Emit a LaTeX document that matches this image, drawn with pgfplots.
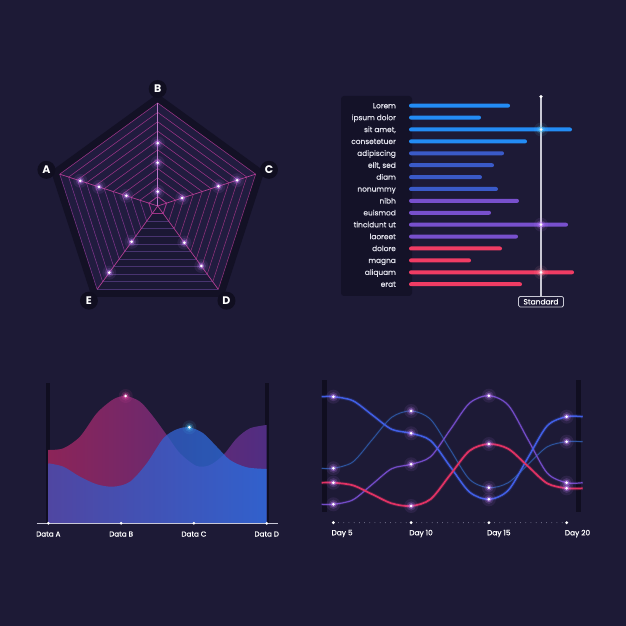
\documentclass[border=0pt]{standalone}
\usepackage{pgfplots}
\pgfplotsset{compat=1.18}
\usepgfplotslibrary{polar}
\usepackage{fontspec}
\setmainfont{Poppins}
\newfontfamily\medfont{Poppins}[FakeBold=0.7]

\definecolor{bg}{RGB}{29,26,54}
\definecolor{panel}{RGB}{20,18,40}
\definecolor{darkbar}{RGB}{16,14,32}
\definecolor{radarfill}{RGB}{33,28,63}
\definecolor{radarbottom}{RGB}{27,24,52}
\definecolor{ringpink}{RGB}{155,52,135}
\definecolor{ringright}{RGB}{145,50,125}
\definecolor{ringleft}{RGB}{125,52,138}
\definecolor{ringbottom}{RGB}{72,52,112}
\definecolor{spoke}{RGB}{180,62,148}
\definecolor{spokeB}{RGB}{185,120,200}
\definecolor{glowpurple}{RGB}{200,130,255}
\definecolor{barA}{RGB}{35,140,245}
\definecolor{barB}{RGB}{58,90,200}
\definecolor{barC}{RGB}{120,80,205}
\definecolor{barD}{RGB}{240,60,100}
\definecolor{txt}{RGB}{225,225,235}
\definecolor{stdc}{RGB}{200,200,212}
\definecolor{lineblue}{RGB}{65,95,230}
\definecolor{linesteel}{RGB}{45,85,160}
\definecolor{linepurple}{RGB}{115,75,200}
\definecolor{linered}{RGB}{225,50,100}
\definecolor{pinkL}{RGB}{140,36,88}
\definecolor{pinkR}{RGB}{80,45,130}
\definecolor{blueL}{RGB}{63,80,183}
\definecolor{blueR}{RGB}{41,112,225}
\definecolor{axisgray}{RGB}{200,200,215}
\definecolor{dotgray}{RGB}{140,140,165}

\pgfplotstableread{
x      blue   steel  purple red
4.25   115    43.4   7.4    29
5      115    43.4   7.4    29
6.25   111    49.7   11.8   26.4
7.5    96.7   72.1   27.4   17.4
8.75   82.4   94.4   43     8.3
10     78.4   100.7  47.4   5.7
11.25  71.1   92.3   55     12.5
12.5   45.4   62.4   81.7   36.7
13.75  19.7   32.4   108.5  60.9
15     12.4   24     116    67.7
16.25  21.5   29.1   106.4  62.8
17.5   53.7   47     72.5   45.6
18.75  85.9   64.9   38.6   28.3
20     95     70     29     23.4
21.03  95     70     29     23.4
}\linedata

\newcommand\glow[2]{%
  \addplot[only marks, color=#1, mark=*, mark size=7pt, mark options={draw opacity=0, fill=#1, fill opacity=0.09}] coordinates {#2};
  \addplot[only marks, color=#1, mark=*, mark size=4.6pt, mark options={draw opacity=0, fill=#1, fill opacity=0.18}] coordinates {#2};
  \addplot[only marks, color=#1, mark=*, mark size=2.8pt, mark options={draw opacity=0, fill=#1, fill opacity=0.45}] coordinates {#2};
  \addplot[only marks, color=white, mark=*, mark size=1.5pt, mark options={draw opacity=0, fill=white}] coordinates {#2};
}
\tikzset{radlab/.style={circle, fill=darkbar, minimum size=18pt, inner sep=0pt, text=white,
      font=\bfseries\fontsize{11}{11}\selectfont}}

\begin{document}
\begin{tikzpicture}[x=1pt,y=1pt]
\fill[bg] (0,0) rectangle (626,626);
% label panel of the bar chart
\fill[panel, rounded corners=3pt] (341,330) rectangle (412,530);

% ---------------- Radar chart ----------------
\begin{polaraxis}[at={(157.7pt,420pt)}, anchor=center, scale only axis,
  width=206pt, height=206pt, xmin=0, xmax=360, ymin=0, ymax=100,
  hide axis, clip=false]
  \addplot[darkbar, line width=10pt, line join=round, opacity=0.75] coordinates {(18,103)(90,103)(162,103)(234,103)(306,103)(18,103)(90,103)};
  \addplot[draw=none, fill=radarfill] coordinates {(18,100)(90,100)(162,100)(234,100)(306,100)};
  \addplot[draw=none, fill=radarbottom] coordinates {(306,100)(234,100)(0,0)};
  \pgfplotsinvokeforeach{9.09,18.18,27.27,36.36,45.45,54.55,63.64,72.73,81.82,90.91,100}{
    \addplot[ringpink, line width=0.55pt] coordinates {(162,#1)(90,#1)(18,#1)};
    \addplot[ringright, line width=0.55pt] coordinates {(18,#1)(306,#1)};
    \addplot[ringbottom, line width=0.55pt] coordinates {(306,#1)(234,#1)};
    \addplot[ringleft, line width=0.55pt] coordinates {(234,#1)(162,#1)};
  }
  \addplot[ringpink, line width=0.7pt] coordinates {(18,9.09)(90,9.09)(162,9.09)(234,9.09)(306,9.09)(18,9.09)};
  \addplot[spoke, line width=0.7pt] coordinates {(162,0)(162,100)};
  \addplot[spoke, line width=0.7pt] coordinates {(18,0)(18,100)};
  \addplot[spoke, line width=0.7pt] coordinates {(306,0)(306,100)};
  \addplot[spoke, line width=0.7pt] coordinates {(234,0)(234,100)};
  \addplot[spokeB, line width=0.6pt] coordinates {(90,0)(90,100)};
  \glow{glowpurple}{(90,61)(90,42)(90,14)(162,79)(162,60)(162,32)(18,81)(18,62)(18,25)(306,44)(306,72)(234,43)(234,80)}
  \node[radlab] at (axis cs:162,113.6) {A};
  \node[radlab] at (axis cs:90,113.6) {B};
  \node[radlab] at (axis cs:18,113.6) {C};
  \node[radlab] at (axis cs:306,113.6) {D};
  \node[radlab] at (axis cs:234,113.6) {E};
\end{polaraxis}

% ---------------- Bar chart ----------------
\begin{axis}[at={(409pt,312.05pt)}, anchor=south west, scale only axis,
  width=175pt, height=226.1pt, xmin=0, xmax=175, ymin=-2.5, ymax=16.5,
  axis line style={draw=none}, xtick=\empty,
  ytick={0,1,2,3,4,5,6,7,8,9,10,11,12,13,14,15},
  yticklabels={erat,aliquam,magna,dolore,laoreet,tincidunt ut,euismod,nibh,nonummy,diam,{elit, sed},adipiscing,consetetuer,{sit amet,},ipsum dolor,Lorem},
  major tick length=0pt,
  yticklabel style={font=\medfont\fontsize{7.4}{8}\selectfont, text=txt, anchor=base east, inner sep=0pt, xshift=-13pt, yshift=-2.6pt},
  clip=false]
  \addplot[xbar, bar width=4pt, bar shift=0pt, draw=none, fill=barA, rounded corners=2pt] coordinates {(101,15)(72,14)(163,13)(118,12)};
  \addplot[xbar, bar width=4pt, bar shift=0pt, draw=none, fill=barB, rounded corners=2pt] coordinates {(95,11)(85,10)(73,9)(89,8)};
  \addplot[xbar, bar width=4pt, bar shift=0pt, draw=none, fill=barC, rounded corners=2pt] coordinates {(110,7)(82,6)(159,5)(109,4)};
  \addplot[xbar, bar width=4pt, bar shift=0pt, draw=none, fill=barD, rounded corners=2pt] coordinates {(93,3)(62,2)(165,1)(113,0)};
  \addplot[stdc, line width=1.1pt] coordinates {(132,15.76)(132,-1.05)};
  \addplot[only marks, color=white, mark=*, mark size=1.8pt, mark options={draw opacity=0, fill=white}] coordinates {(132,15.76)};
  \glow{cyan!60!white}{(132,13)}
  \glow{glowpurple}{(132,5)}
  \glow{barD!50!white}{(132,1)}
  \node[draw=stdc, fill=bg, rounded corners=1.5pt, line width=0.8pt, inner sep=1pt,
    minimum width=45pt, minimum height=10.5pt, text=white, font=\medfont\fontsize{7.5}{8}\selectfont] at (axis cs:132,-1.47) {Standard};
\end{axis}

% ---------------- Area chart ----------------
\begin{axis}[at={(36.7pt,102.7pt)}, anchor=south west, scale only axis,
  width=241.3pt, height=140pt, xmin=-0.16, xmax=3.155, ymin=0, ymax=140,
  axis line style={draw=none}, ytick=\empty, xtick={0,1,2,3},
  xticklabels={Data A,Data B,Data C,Data D}, major tick length=0pt,
  xticklabel style={font=\medfont\fontsize{7.2}{8}\selectfont, text=white, anchor=north, inner sep=0pt, yshift=-8pt},
  clip=false]
  \addplot[darkbar, line width=4pt] coordinates {(0,0)(0,140)};
  \addplot[darkbar, line width=4pt] coordinates {(3,0)(3,140)};
  \addplot[smooth, draw=none, left color=pinkL, right color=pinkR] coordinates {
    (0,73.3)(0.206,75)(0.435,86.7)(0.665,110)(0.893,124)(1.063,127.3)(1.26,121.6)(1.442,106.6)
    (1.626,88.3)(1.809,70)(2.038,57.3)(2.221,58.3)(2.404,68.3)(2.588,85)(2.771,95)(3,98.3)} \closedcycle;
  \addplot[smooth, draw=none, left color=blueL, right color=blueR, fill opacity=0.78] coordinates {
    (0,60)(0.206,56.6)(0.435,46.6)(0.665,39)(0.893,36.6)(1.122,41.6)(1.352,60)(1.58,85)
    (1.764,94)(1.937,96)(2.129,90)(2.313,76.6)(2.496,63.3)(2.725,56)(3,54.3)} \closedcycle;
  \addplot[axisgray, line width=1pt] coordinates {(-0.16,0)(3.155,0)};
  \addplot[only marks, color=white, mark=*, mark size=1.5pt, mark options={draw opacity=0, fill=white}] coordinates {(0,0)(1,0)(2,0)(3,0)};
  \glow{magenta!70!white}{(1.063,127.3)}
  \glow{cyan!70!white}{(1.937,96)}
\end{axis}

% ---------------- Line chart ----------------
\begin{axis}[at={(321.7pt,103.3pt)}, anchor=south west, scale only axis,
  width=261pt, height=142.7pt, xmin=4.25, xmax=21.03, ymin=-11, ymax=131.7,
  axis line style={draw=none}, ytick=\empty, xtick={5,10,15,20},
  xticklabels={Day 5,Day 10,Day 15,Day 20}, major tick length=0pt,
  xticklabel style={font=\medfont\fontsize{7.4}{8}\selectfont, text=white, anchor=north west, inner sep=0pt, xshift=-2pt, yshift=-7pt},
  clip=false]
  \addplot[darkbar, line width=5pt] coordinates {(4.46,0)(4.46,131.7)};
  \addplot[darkbar, line width=5pt] coordinates {(20.77,0)(20.77,131.7)};
  % glow under lines
  \addplot[smooth, linesteel, line width=2.5pt, opacity=0.15] table[x=x, y=steel] {\linedata};
  \addplot[smooth, linepurple, line width=3pt, opacity=0.15] table[x=x, y=purple] {\linedata};
  \addplot[smooth, lineblue, line width=3.5pt, opacity=0.2] table[x=x, y=blue] {\linedata};
  \addplot[smooth, linered, line width=3.5pt, opacity=0.2] table[x=x, y=red] {\linedata};
  % lines
  \addplot[smooth, linesteel, line width=0.9pt] table[x=x, y=steel] {\linedata};
  \addplot[smooth, linepurple, line width=1.2pt] table[x=x, y=purple] {\linedata};
  \addplot[smooth, lineblue, line width=1.5pt] table[x=x, y=blue] {\linedata};
  \addplot[smooth, linered, line width=1.7pt] table[x=x, y=red] {\linedata};
  \glow{glowpurple}{(5,115)(10,78.4)(15,12.4)(20,95)(5,43.4)(10,100.7)(15,24)(20,70)(5,7.4)(10,47.4)(15,116)(20,29)(5,29)(10,5.7)(15,67.7)(20,23.4)}
  % day axis
  \addplot[dotgray, line width=0.9pt, line cap=round, dash pattern=on 0pt off 5.2pt] coordinates {(5,-11)(20,-11)};
  \addplot[only marks, color=white, mark=*, mark size=1.6pt, mark options={draw opacity=0, fill=white}] coordinates {(5,-11)(10,-11)(15,-11)(20,-11)};
\end{axis}
\end{tikzpicture}
\end{document}
